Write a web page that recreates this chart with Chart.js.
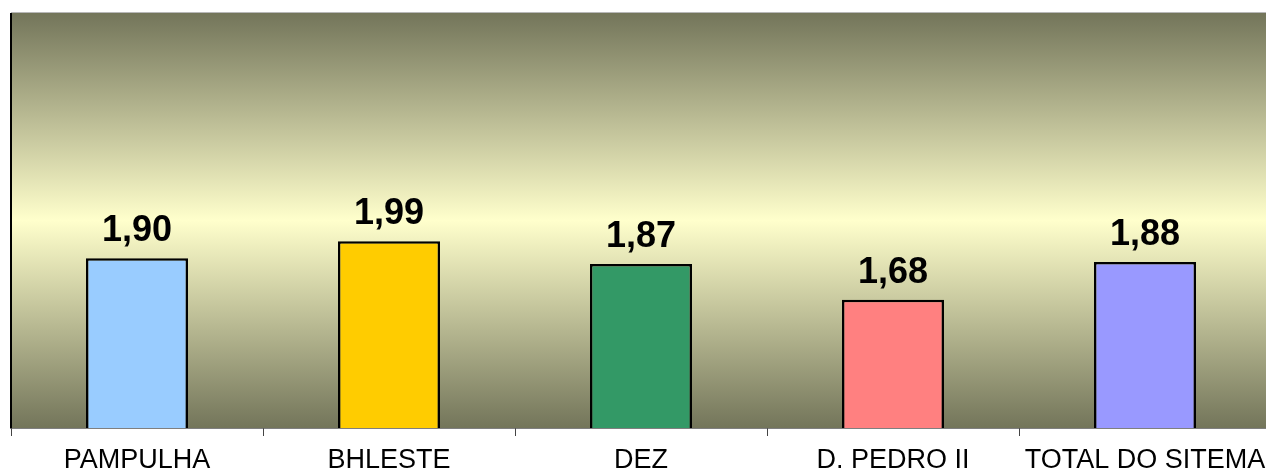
<!DOCTYPE html>
<html>
<head>
<meta charset="utf-8">
<script src="https://cdn.jsdelivr.net/npm/chart.js@4/dist/chart.umd.min.js"></script>
<style>
html,body{margin:0;padding:0;background:#fff;overflow:hidden;}
#wrap{width:1272px;height:470px;position:relative;}
</style>
</head>
<body>
<div id="wrap"><canvas id="c" width="1272" height="470"></canvas></div>
<script>
const categories = ["PAMPULHA", "BHLESTE", "DEZ", "D. PEDRO II", "TOTAL DO SITEMA"];
const values = [1.90, 1.99, 1.87, 1.68, 1.88];
const barColors = ["#99CCFF", "#FFCC00", "#339966", "#FF8080", "#9999FF"];
const yMin = 1.0;
const yMax = 3.2;

const FONT = "'Liberation Sans', Arial, sans-serif";

const bgPlugin = {
  id: 'bgPlugin',
  beforeDatasetsDraw(chart) {
    const {ctx, chartArea: a} = chart;
    const g = ctx.createLinearGradient(0, a.top, 0, a.bottom);
    g.addColorStop(0, '#73755A');
    g.addColorStop(0.5, '#FFFFCC');
    g.addColorStop(1, '#73755A');
    ctx.save();
    ctx.fillStyle = g;
    ctx.fillRect(a.left, a.top, a.right - a.left, a.bottom - a.top);
    ctx.strokeStyle = '#B8B8B8';
    ctx.lineWidth = 1;
    ctx.beginPath();
    ctx.moveTo(a.left, a.top - 0.5);
    ctx.lineTo(a.right, a.top - 0.5);
    ctx.stroke();
    ctx.strokeStyle = '#000';
    ctx.lineWidth = 2;
    ctx.beginPath();
    ctx.moveTo(a.left, a.top);
    ctx.lineTo(a.left, a.bottom);
    ctx.stroke();
    ctx.restore();
  }
};

const labelPlugin = {
  id: 'labelPlugin',
  afterDatasetsDraw(chart) {
    const {ctx} = chart;
    const meta = chart.getDatasetMeta(0);
    ctx.save();
    ctx.font = "bold 36px " + FONT;
    ctx.fillStyle = '#000';
    ctx.textAlign = 'center';
    ctx.textBaseline = 'alphabetic';
    meta.data.forEach((bar, i) => {
      const txt = values[i].toFixed(2).replace('.', ',');
      ctx.fillText(txt, bar.x, bar.y - 17);
    });
    ctx.restore();
  }
};

new Chart(document.getElementById('c'), {
  type: 'bar',
  data: {
    labels: categories,
    datasets: [{
      data: values,
      backgroundColor: barColors,
      borderColor: '#000',
      borderWidth: 2.5,
      borderSkipped: false,
      barPercentage: 0.405,
      categoryPercentage: 1.0
    }]
  },
  options: {
    responsive: false,
    animation: false,
    devicePixelRatio: 1,
    layout: { padding: { left: 11, top: 13, right: 1, bottom: 0 } },
    plugins: { legend: { display: false }, tooltip: { enabled: false } },
    scales: {
      x: {
        offset: true,
        grid: { offset: true, drawOnChartArea: false, drawTicks: true, tickLength: 8, color: '#444', lineWidth: 1 },
        border: { display: true, color: '#000', width: 1.5 },
        ticks: { color: '#000', font: { family: FONT, size: 27 }, padding: 8, maxRotation: 0, autoSkip: false },
        afterFit(scale) { scale.height = 42; scale.paddingLeft = 0; scale.paddingRight = 0; }
      },
      y: {
        display: false,
        min: yMin,
        max: yMax
      }
    }
  },
  plugins: [bgPlugin, labelPlugin]
});
</script>
</body>
</html>
